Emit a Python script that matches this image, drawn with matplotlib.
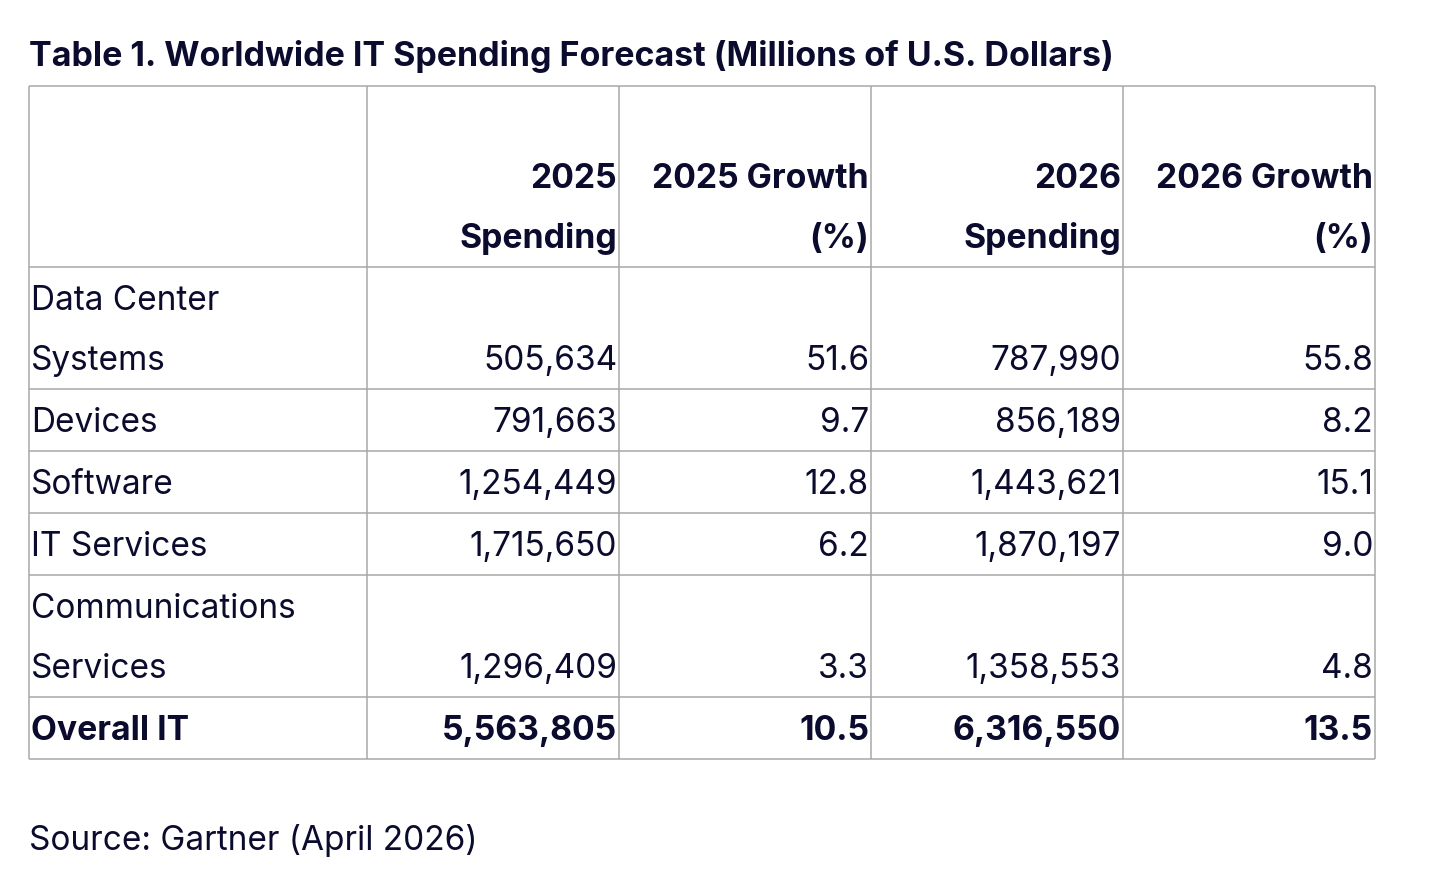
import matplotlib
matplotlib.use("Agg")
import matplotlib.pyplot as plt

# table data
title = "Table 1. Worldwide IT Spending Forecast (Millions of U.S. Dollars)"
source = "Source: Gartner (April 2026)"
headers = ["", "2025\nSpending", "2025 Growth\n(%)", "2026\nSpending", "2026 Growth\n(%)"]
categories = ["Data Center\nSystems", "Devices", "Software", "IT Services",
              "Communications\nServices"]
spend_2025 = [505634, 791663, 1254449, 1715650, 1296409]
growth_2025 = [51.6, 9.7, 12.8, 6.2, 3.3]
spend_2026 = [787990, 856189, 1443621, 1870197, 1358553]
growth_2026 = [55.8, 8.2, 15.1, 9.0, 4.8]
total_label = "Overall IT"
total_values = [5563805, 10.5, 6316550, 13.5]

# layout (pixels)
W, H = 1436, 880
LEFT, TOP = 29, 86
COL_W = [338, 252, 252, 252, 252]
HEADER_H = 181
LINE_H = 60
PAD_BOTTOM = 19
TEXT = "#0b0b2e"
GRID = "#a8a8a8"
FONT = "Inter"
FS = 24
FS_BOLD = 24.3

fig = plt.figure(figsize=(W / 100, H / 100), dpi=100)
ax = fig.add_axes([0, 0, 1, 1])
ax.set_xlim(0, W)
ax.set_ylim(H, 0)
ax.axis("off")

rows = [headers]
for i, cat in enumerate(categories):
    rows.append([cat, f"{spend_2025[i]:,}", f"{growth_2025[i]:.1f}",
                 f"{spend_2026[i]:,}", f"{growth_2026[i]:.1f}"])
rows.append([total_label, f"{total_values[0]:,}", f"{total_values[1]:.1f}",
             f"{total_values[2]:,}", f"{total_values[3]:.1f}"])

row_h = [HEADER_H] + [LINE_H * (r[0].count("\n") + 1) + 2 for r in rows[1:]]

xs = [LEFT]
for w in COL_W:
    xs.append(xs[-1] + w)
ys = [TOP]
for h in row_h:
    ys.append(ys[-1] + h)

ax.text(LEFT, 66, title, fontsize=24.5, fontweight="bold", family=FONT,
        color=TEXT, ha="left", va="baseline")

for r, row in enumerate(rows):
    bold = r == 0 or r == len(rows) - 1
    bottom = ys[r + 1]
    for c, cell in enumerate(row):
        lines = cell.split("\n")
        for k, line in enumerate(lines):
            base = bottom - PAD_BOTTOM - LINE_H * (len(lines) - 1 - k)
            kw = dict(fontsize=FS_BOLD if bold else FS, family=FONT,
                      fontweight="bold" if bold else "normal", color=TEXT,
                      va="baseline")
            if c == 0:
                ax.text(xs[c] + 2, base, line, ha="left", **kw)
            else:
                ax.text(xs[c + 1] - 2, base, line, ha="right", **kw)

ax.hlines(ys, xs[0], xs[-1], color=GRID, linewidth=1.1)
ax.vlines(xs, ys[0], ys[-1], color=GRID, linewidth=1.1)

ax.text(LEFT, 850, source, fontsize=FS, family=FONT, color=TEXT,
        ha="left", va="baseline")

fig.savefig("out.png", dpi=100)
